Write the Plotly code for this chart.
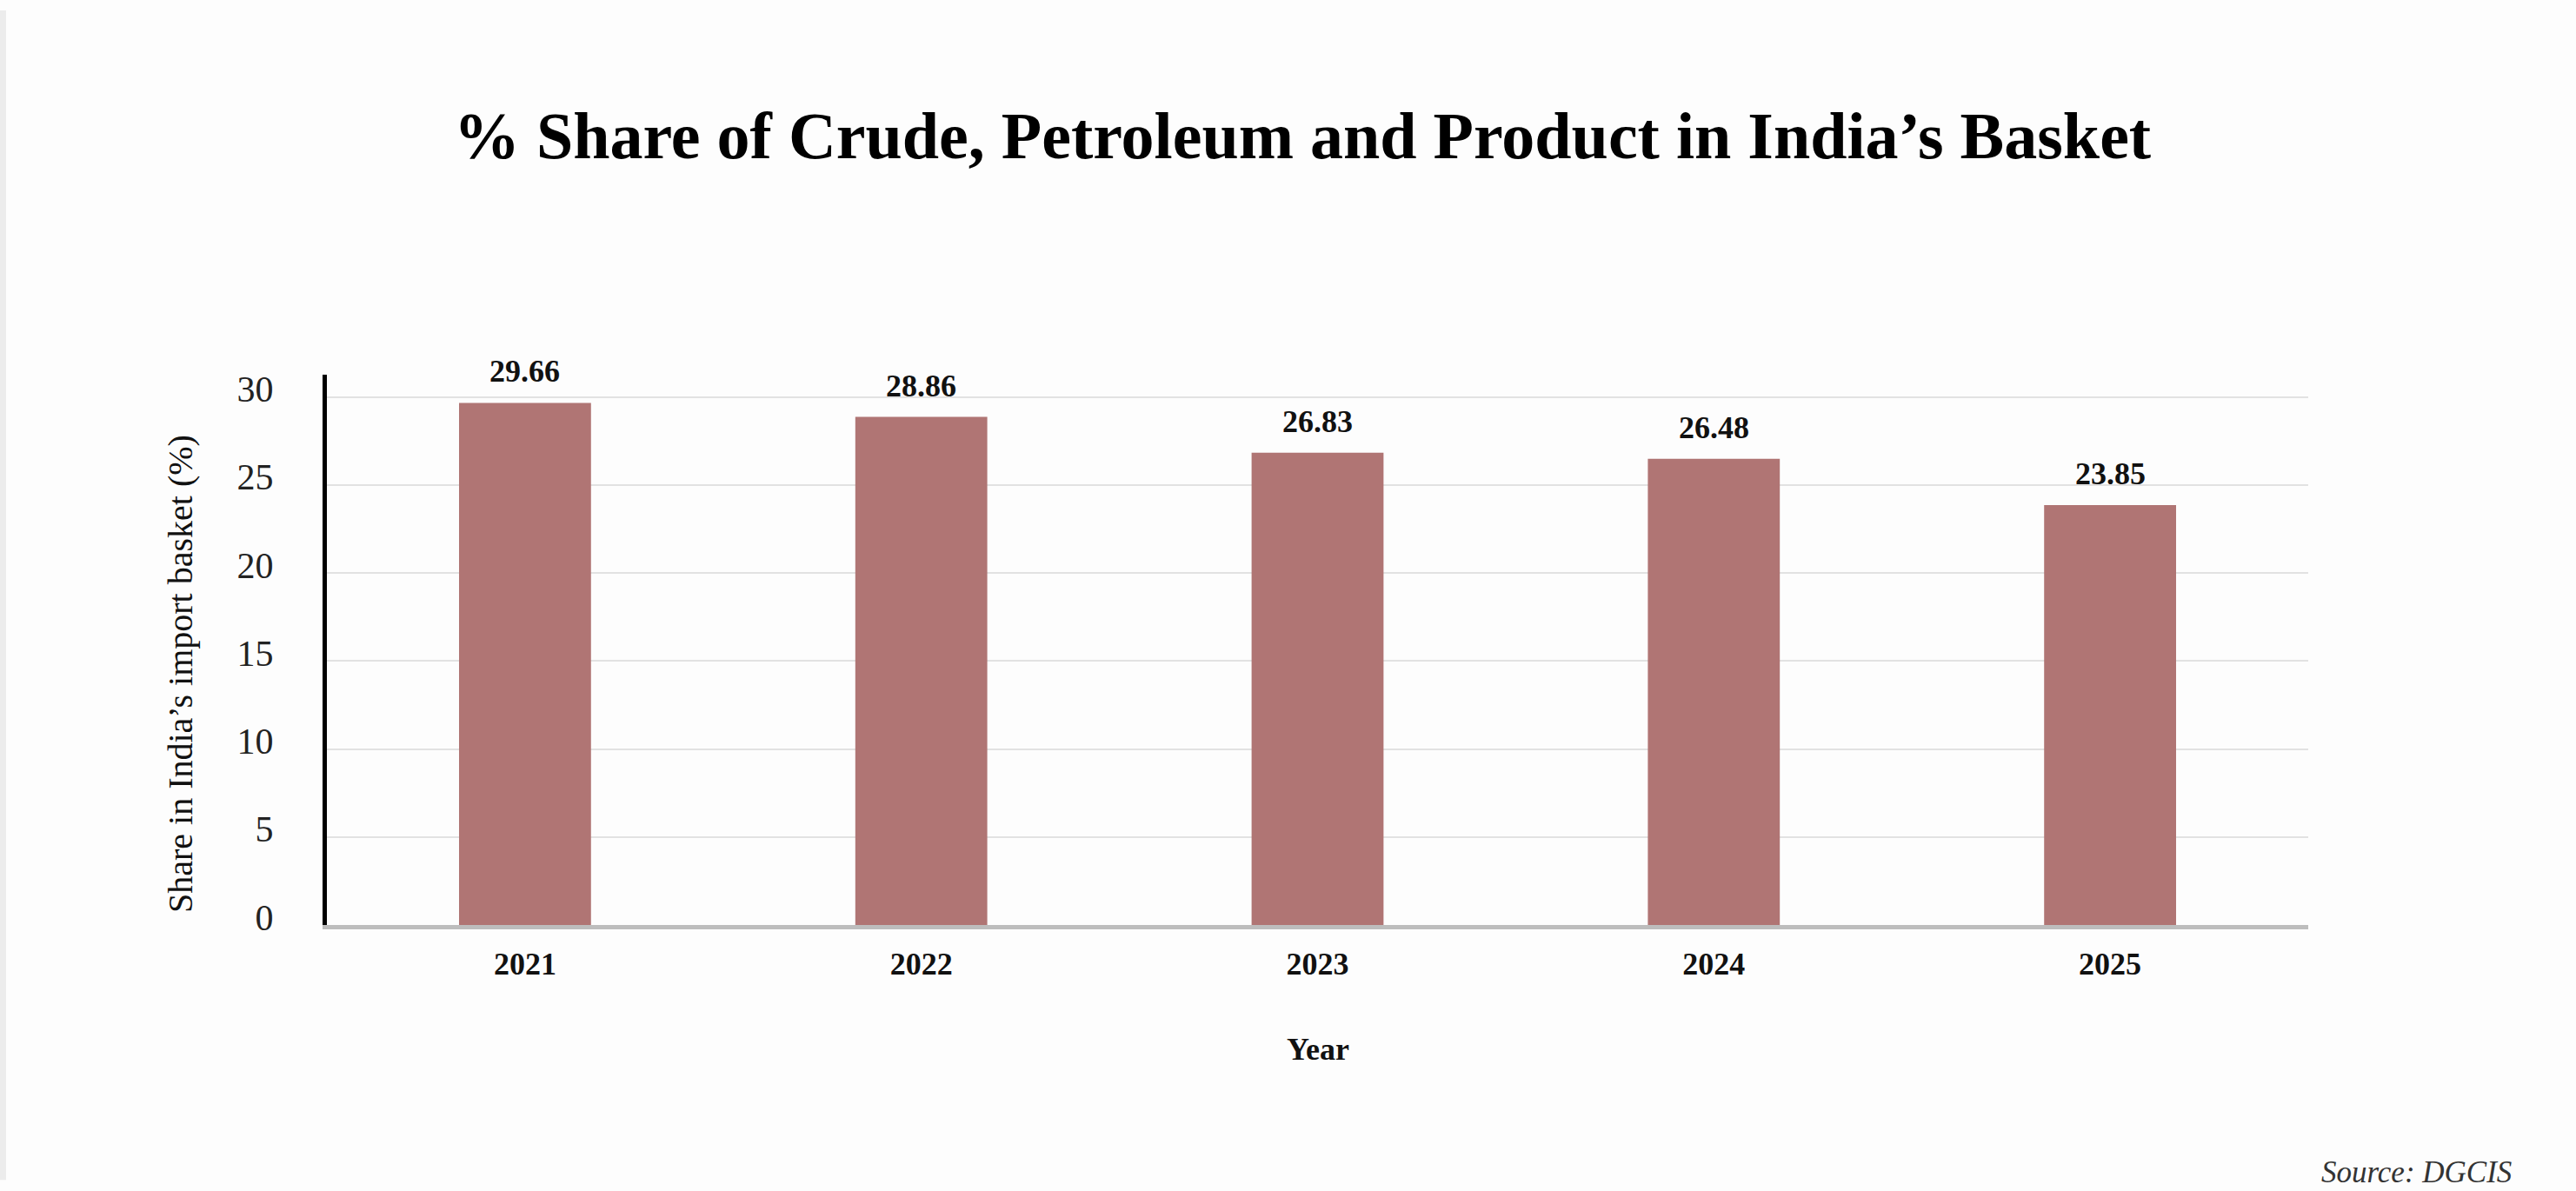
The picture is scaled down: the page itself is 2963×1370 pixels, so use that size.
import plotly.graph_objects as go

# Share of crude, petroleum and products in India's import basket
years = ["2021", "2022", "2023", "2024", "2025"]
shares = [29.66, 28.86, 26.83, 26.48, 23.85]
y_ticks = [0, 5, 10, 15, 20, 25, 30]

SERIF = "Liberation Serif, Times New Roman, serif"
BAR_COLOR = "#b07574"

W, H = 2963, 1370
L, R, T, B = 376, 308, 431, 306

fig = go.Figure()
fig.add_trace(go.Bar(
    x=years,
    y=shares,
    marker=dict(color=BAR_COLOR, line=dict(width=0)),
    hoverinfo="skip",
))

# value labels above each bar (category index used for x)
for i, v in enumerate(shares):
    fig.add_annotation(
        x=i, y=v, xref="x", yref="y",
        text=f"<b>{v:.2f}</b>", showarrow=False,
        yanchor="middle", yshift=36,
        font=dict(family=SERIF, size=36, color="#111111"),
    )

# axis titles
fig.add_annotation(
    x=-0.0737, y=0.4566, xref="paper", yref="paper",
    text="Share in India’s import basket (%)", textangle=-90,
    showarrow=False, xanchor="center", yanchor="middle",
    font=dict(family=SERIF, size=40, color="#111111"),
)
fig.add_annotation(
    x=0.5, y=-0.226, xref="paper", yref="paper",
    text="<b>Year</b>", showarrow=False,
    xanchor="center", yanchor="middle",
    font=dict(family=SERIF, size=36, color="#111111"),
)
# source note
fig.add_annotation(
    x=1.1036, y=-0.450, xref="paper", yref="paper",
    text="Source: DGCIS", showarrow=False,
    xanchor="right", yanchor="middle",
    font=dict(family=SERIF, size=35, color="#333333", style="italic"),
)

# faint page edge on the left
fig.add_shape(
    type="rect", xref="paper", yref="paper",
    x0=-L / 2279, x1=-(L - 7) / 2279,
    y0=-B / 633 + 0.02, y1=1 + (T - 12) / 633,
    line=dict(width=0), fillcolor="#ececec", layer="below",
)

fig.update_layout(
    width=W, height=H,
    margin=dict(l=L, r=R, t=T, b=B, pad=0),
    paper_bgcolor="#fdfdfd",
    plot_bgcolor="#fdfdfd",
    showlegend=False,
    bargap=0.667,
    title=dict(
        text="<b>% Share of Crude, Petroleum and Product in India’s Basket</b>",
        x=0.5056, xanchor="center", xref="container",
        y=1 - 155 / H, yanchor="middle", yref="container",
        font=dict(family=SERIF, size=76, color="#000000"),
    ),
    xaxis=dict(
        type="category",
        range=[-0.5, 4.5],
        showgrid=False,
        showline=True, linecolor="#bdbdbd", linewidth=5,
        ticks="outside", ticklen=0,
        ticklabelstandoff=9,
        tickfont=dict(family=SERIF, size=36, color="#111111"),
        tickprefix="<b>", ticksuffix="</b>",
        zeroline=False,
    ),
    yaxis=dict(
        range=[0, 31.26],
        tickvals=y_ticks,
        showgrid=True, gridcolor="#e2e2e2", gridwidth=2,
        showline=True, linecolor="#000000", linewidth=5,
        ticks="outside", ticklen=0,
        ticklabelstandoff=48,
        ticklabelshift=-9,
        tickfont=dict(family=SERIF, size=42, color="#222222"),
        zeroline=False,
    ),
)

fig.write_html("out.html")
